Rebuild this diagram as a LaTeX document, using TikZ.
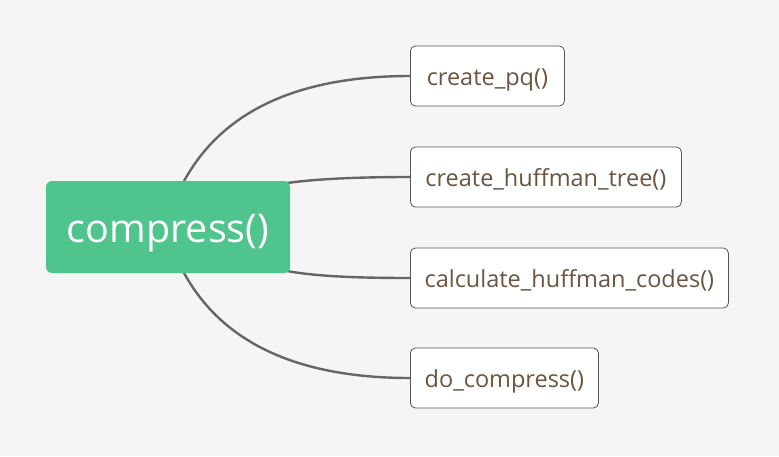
\documentclass[tikz,border=0pt]{standalone}
\usepackage{fontspec}
\setmainfont{Open Sans}
\definecolor{bgc}{HTML}{F5F5F5}
\definecolor{greenc}{HTML}{4FC48C}
\definecolor{linec}{HTML}{666666}
\definecolor{txtc}{HTML}{6B5440}
\definecolor{borderc}{HTML}{555555}
\newcommand{\lowtxt}[2]{\raisebox{-#1}[0pt][0pt]{#2}}
\begin{document}
\begin{tikzpicture}[x=1pt,y=-1pt,
  leaf/.style={draw=borderc,line width=0.8pt,fill=white,rounded corners=5pt,
    minimum height=60pt,anchor=west,text=txtc,font=\fontsize{23.5}{26}\selectfont,inner sep=0pt},
  root/.style={fill=greenc,rounded corners=6pt,minimum width=244pt,minimum height=92pt,
    text=white,font=\fontsize{39.5}{44}\selectfont,inner sep=0pt},
  conn/.style={draw=linec,line width=2.4pt}]
\fill[bgc] (0,0) rectangle (779,456);
\useasboundingbox (0,0) rectangle (779,456);
\coordinate (s1) at (183,183);
\coordinate (s2) at (287,183);
\coordinate (s3) at (287,271);
\coordinate (s4) at (183,271);
\node[leaf,minimum width=154pt] (a) at (410,76) {\lowtxt{9.5pt}{create\_pq()}};
\node[leaf,minimum width=271pt] (b) at (410,177) {\lowtxt{9.5pt}{create\_huffman\_tree()}};
\node[leaf,minimum width=318pt] (d) at (410,278) {\lowtxt{9.5pt}{calculate\_huffman\_codes()}};
\node[leaf,minimum width=188pt] (e) at (410,378) {\lowtxt{9.5pt}{do\_compress()}};
\draw[conn] (s1) .. controls (221,111.7) and (296.7,76) .. (a.west);
\draw[conn] (s2) .. controls (315.7,179) and (356.7,177) .. (b.west);
\draw[conn] (s3) .. controls (315.7,276.3) and (356.7,278) .. (d.west);
\draw[conn] (s4) .. controls (221,342.3) and (296.7,378) .. (e.west);
\node[root] (c) at (168,227) {\lowtxt{15pt}{compress()}};
\end{tikzpicture}
\end{document}
